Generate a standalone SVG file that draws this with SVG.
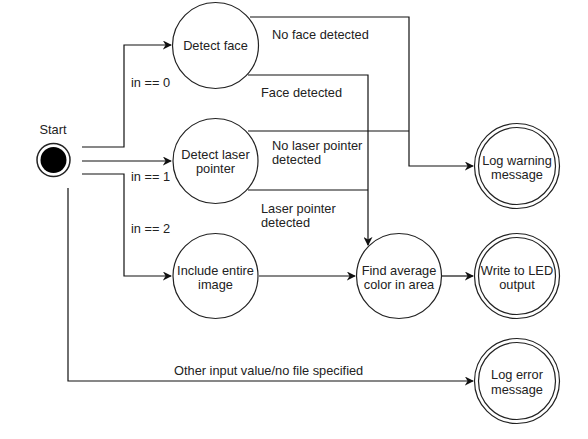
<svg xmlns="http://www.w3.org/2000/svg" width="588" height="439" viewBox="0 0 588 439">
<style>
text{font-family:"Liberation Sans",Arial,sans-serif;font-size:12.8px;fill:#222}
.c{text-anchor:middle}
.n{fill:#fff;stroke:#222;stroke-width:1.2}
.e{fill:none;stroke:#111;stroke-width:1.2}
</style>
<defs>
<marker id="a" viewBox="0 0 10 10" refX="9" refY="5" markerWidth="9" markerHeight="9" markerUnits="userSpaceOnUse" orient="auto">
<path d="M0,0 L10,5 L0,10 L3,5 Z" fill="#111"/>
</marker>
</defs>
<rect width="588" height="439" fill="#fff"/>
<g id="connectors">
<path class="e" d="M82,147 H124 V45 H171" marker-end="url(#a)"/>
<path class="e" d="M82,161 H171" marker-end="url(#a)"/>
<path class="e" d="M82,174 H124 V276 H171" marker-end="url(#a)"/>
<path class="e" d="M68,188 V381 H473" marker-end="url(#a)"/>
<path class="e" d="M250,17 H409 V166 H473" marker-end="url(#a)"/>
<path class="e" d="M248,131 H409"/>
<path class="e" d="M248,75 H368 V245" marker-end="url(#a)"/>
<path class="e" d="M248,190 H368"/>
<path class="e" d="M259,276 H355" marker-end="url(#a)"/>
<path class="e" d="M442,276 H473" marker-end="url(#a)"/>
<text x="131" y="86.5">in == 0</text>
<text x="131" y="180.5">in == 1</text>
<text x="131" y="232.5">in == 2</text>
<text x="272" y="38.5">No face detected</text>
<text x="261" y="96.5">Face detected</text>
<text x="272" y="149.5">No laser pointer</text>
<text x="272" y="163.5">detected</text>
<text x="261" y="212.5">Laser pointer</text>
<text x="261" y="226.5">detected</text>
<text x="174" y="374.5">Other input value/no file specified</text>
</g>
<g id="start">
<text class="c" x="53" y="133.5">Start</text>
<circle cx="53.5" cy="160" r="16.5" fill="#fff" stroke="#222" stroke-width="1.5"/>
<circle cx="53.5" cy="160" r="13" fill="#000"/>
</g>
<g id="detect-face">
<circle class="n" cx="215.5" cy="45.5" r="43"/>
<text class="c" x="215.5" y="50">Detect face</text>
</g>
<g id="detect-laser">
<circle class="n" cx="215.5" cy="161" r="42.5"/>
<text class="c" x="215.5" y="158.5">Detect laser</text>
<text class="c" x="215.5" y="173">pointer</text>
</g>
<g id="include-image">
<circle class="n" cx="215.5" cy="276" r="42.5"/>
<text class="c" x="215.5" y="274.5">Include entire</text>
<text class="c" x="215.5" y="288.5">image</text>
</g>
<g id="find-average">
<circle class="n" cx="399" cy="276" r="42.5"/>
<text class="c" x="399" y="274.5">Find average</text>
<text class="c" x="399" y="288.5">color in area</text>
</g>
<g id="log-warning">
<circle class="n" cx="517" cy="166" r="42.5"/>
<circle class="n" cx="517" cy="166" r="38.5"/>
<text class="c" x="517" y="164.5">Log warning</text>
<text class="c" x="517" y="178.5">message</text>
</g>
<g id="write-led">
<circle class="n" cx="517" cy="276" r="42.5"/>
<circle class="n" cx="517" cy="276" r="38.5"/>
<text class="c" x="517" y="274.5">Write to LED</text>
<text class="c" x="517" y="288.5">output</text>
</g>
<g id="log-error">
<circle class="n" cx="517" cy="381" r="42.5"/>
<circle class="n" cx="517" cy="381" r="38.5"/>
<text class="c" x="517" y="378.5">Log error</text>
<text class="c" x="517" y="393.5">message</text>
</g>
</svg>
